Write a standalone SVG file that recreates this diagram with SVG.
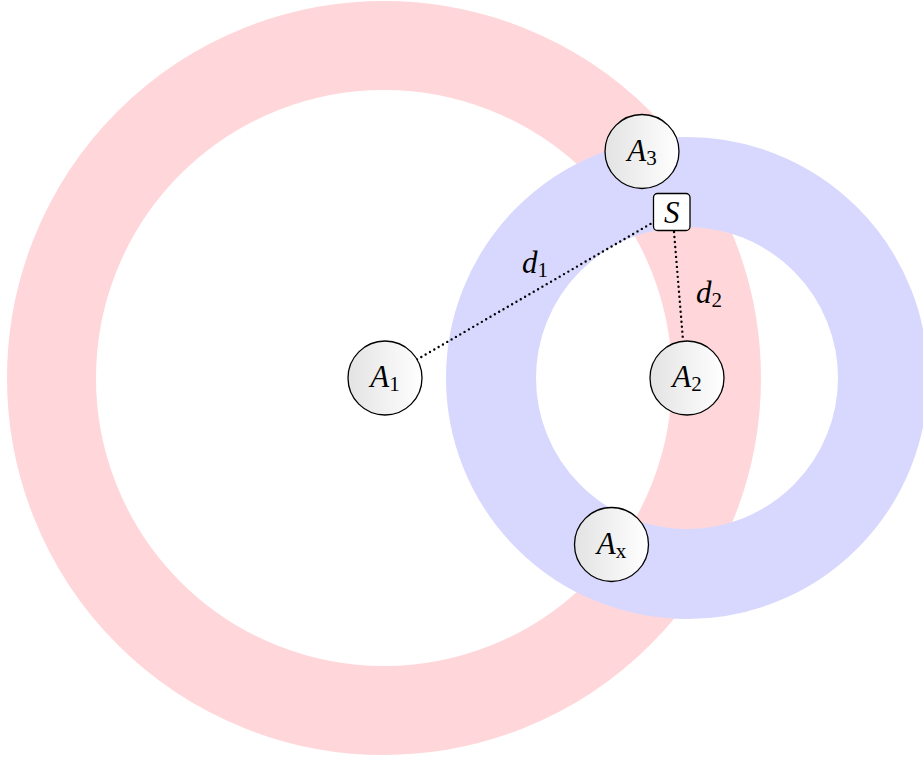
<svg xmlns="http://www.w3.org/2000/svg" width="923" height="760" viewBox="0 0 923 760">
<defs>
<linearGradient id="shade" x1="0" y1="0" x2="1" y2="0">
<stop offset="0" stop-color="#e3e3e3"/>
<stop offset="1" stop-color="#ffffff"/>
</linearGradient>
</defs>
<style>
.ring{fill:none}
.node{fill:url(#shade);stroke:#000;stroke-width:1.3}
text{font-family:'Liberation Serif','DejaVu Serif',serif;font-size:31px;text-anchor:middle;fill:#000}
.it{font-style:italic}
.sub{font-size:21px;font-style:normal}
.conn{fill:none;stroke:#000;stroke-width:2.4;stroke-dasharray:0 5;stroke-linecap:round}
</style>
<rect width="923" height="760" fill="#fff"/>
<circle class="ring" cx="384" cy="378" r="332.5" stroke="#ffd7da" stroke-width="89"/>
<circle class="ring" cx="687" cy="378" r="196" stroke="#d8d8ff" stroke-width="90"/>
<g id="connectors">
<line class="conn" x1="417" y1="359.5" x2="652" y2="223"/>
<line class="conn" x1="674" y1="232" x2="683" y2="340"/>
<text x="535" y="273"><tspan class="it">d</tspan><tspan class="sub" dy="4">1</tspan></text>
<text x="709" y="303"><tspan class="it">d</tspan><tspan class="sub" dy="4">2</tspan></text>
</g>
<g id="A1">
<circle class="node" cx="385" cy="378" r="37"/>
<text x="385" y="387"><tspan class="it">A</tspan><tspan class="sub" dy="4">1</tspan></text>
</g>
<g id="A2">
<circle class="node" cx="687" cy="378" r="37"/>
<text x="687" y="387"><tspan class="it">A</tspan><tspan class="sub" dy="4">2</tspan></text>
</g>
<g id="A3">
<circle class="node" cx="642" cy="151.5" r="37"/>
<text x="642" y="161"><tspan class="it">A</tspan><tspan class="sub" dy="4">3</tspan></text>
</g>
<g id="Ax">
<circle class="node" cx="611.5" cy="544.5" r="37"/>
<text x="611.5" y="554"><tspan class="it">A</tspan><tspan class="sub it" dy="4">x</tspan></text>
</g>
<g id="S">
<rect x="653.5" y="193.5" width="36.5" height="37" rx="4" fill="#fff" stroke="#000" stroke-width="1.3"/>
<text class="it" x="671.8" y="222.5">S</text>
</g>
</svg>
